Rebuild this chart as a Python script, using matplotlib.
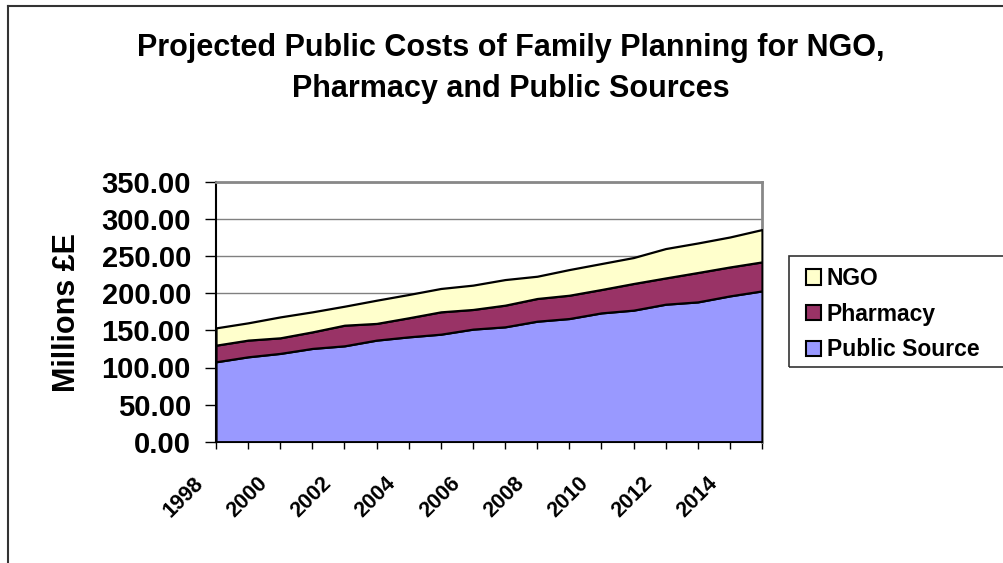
import matplotlib.pyplot as plt
import matplotlib.transforms as mtransforms
from matplotlib.patches import Patch, Rectangle
from matplotlib.lines import Line2D

# data
years = list(range(1998, 2016))
public_source = [107.7, 114.4, 119.0, 125.7, 129.2, 136.9, 141.3, 144.9, 151.7,
                 154.8, 162.4, 166.0, 173.6, 177.3, 185.3, 188.4, 196.5, 203.2]
pharmacy = [22.4, 22.5, 21.0, 22.3, 27.8, 22.5, 25.7, 30.1, 26.5,
            29.2, 30.6, 31.4, 31.5, 35.9, 35.4, 39.6, 39.0, 39.1]
ngo = [23.3, 23.3, 28.2, 27.0, 25.6, 31.3, 31.4, 31.5, 32.8,
       34.5, 30.0, 34.6, 35.0, 35.0, 39.6, 39.8, 40.4, 43.6]
tick_years = years[::2]
series_names = ["Public Source", "Pharmacy", "NGO"]
colors = ["#9999FF", "#993366", "#FFFFCC"]

plt.rcParams['font.family'] = ['Liberation Sans', 'DejaVu Sans']
plt.rcParams['font.weight'] = 'bold'

W, H = 1004, 563
fig = plt.figure(figsize=(W / 100, H / 100), dpi=100)
ax = fig.add_axes([216 / W, 1 - 441.7 / H, (762 - 216) / W, (441.7 - 182) / H])

ax.stackplot(years, public_source, pharmacy, ngo, colors=colors,
             edgecolor='black', linewidth=1.6, zorder=3)

ax.set_xlim(years[0], years[-1])
ax.set_ylim(0, 350)
ax.set_yticks(range(0, 351, 50))
ax.set_yticklabels(["%.2f" % v for v in range(0, 351, 50)], fontsize=21, fontweight='bold')
ax.yaxis.grid(True, color='#808080', linewidth=1.0, zorder=1)
ax.set_axisbelow(True)

# x ticks at every year, labels every two years
ax.set_xticks(years)
ax.set_xticklabels([str(y) if y in tick_years else "" for y in years],
                   fontsize=15.5, fontweight='bold')
ax.tick_params(axis='x', length=5, width=1, pad=0, direction='out')
ax.tick_params(axis='y', length=8, width=1, pad=10, direction='out')
shift = mtransforms.ScaledTranslation(-0.16, -0.32, fig.dpi_scale_trans)
for lab in ax.get_xticklabels():
    lab.set_rotation(45)
    lab.set_rotation_mode('anchor')
    lab.set_ha('right')
    lab.set_va('center')
    lab.set_transform(lab.get_transform() + shift)

for side in ['top', 'right']:
    ax.spines[side].set_color('#888888')
    ax.spines[side].set_linewidth(2)
for side in ['left', 'bottom']:
    ax.spines[side].set_color('black')
    ax.spines[side].set_linewidth(1.5)

fig.text(67 / W, 1 - 312 / H, "Millions £E", rotation=90, fontsize=22,
         fontweight='bold', ha='center', va='center')

fig.text(511 / W, 1 - 48 / H, "Projected Public Costs of Family Planning for NGO,",
         fontsize=22, fontweight='bold', ha='center', va='center')
fig.text(511 / W, 1 - 89 / H, "Pharmacy and Public Sources",
         fontsize=22, fontweight='bold', ha='center', va='center')

# legend
handles = [Patch(facecolor=colors[i], edgecolor='black', linewidth=1.5) for i in [2, 1, 0]]
labels = [series_names[i] for i in [2, 1, 0]]
fig.legend(handles, labels, loc='upper left', bbox_to_anchor=(797 / W, 1 - 258 / H),
           frameon=False, handlelength=0.65, handleheight=0.65,
           handletextpad=0.25, labelspacing=0.55, borderaxespad=0,
           prop={'weight': 'bold', 'size': 16.5})
fig.add_artist(Rectangle((789 / W, 1 - 367 / H), 0.3, (367 - 256) / H,
                         transform=fig.transFigure, fill=False,
                         edgecolor='#333333', linewidth=1.2))

# outer chart frame (cropped at right and bottom)
fig.add_artist(Line2D([8 / W, 1.0], [1 - 6 / H, 1 - 6 / H], color='#333333', linewidth=1.5))
fig.add_artist(Line2D([8 / W, 8 / W], [0, 1 - 6 / H], color='#333333', linewidth=1.5))

fig.savefig('out.png', dpi=100)
